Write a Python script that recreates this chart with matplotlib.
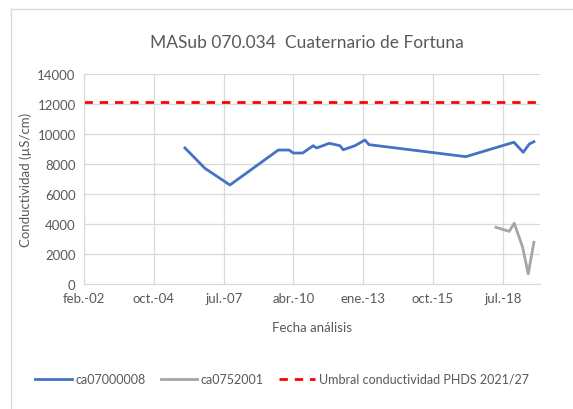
import numpy as np
import pandas as pd
import matplotlib
matplotlib.use('Agg')
import matplotlib.pyplot as plt
from matplotlib.lines import Line2D

# data
blue_dates = ['2006-01-17', '2006-10-31', '2007-10-24', '2009-09-15', '2010-02-19',
              '2010-04-18', '2010-08-30', '2011-01-29', '2011-03-19', '2011-09-16',
              '2012-02-16', '2012-04-03', '2012-09-18', '2013-02-08', '2013-04-06',
              '2017-01-23', '2018-12-13', '2019-04-26', '2019-07-21', '2019-09-26']
blue_vals = [9070, 7710, 6600, 8930, 8930, 8730, 8730, 9220, 9070, 9380,
             9220, 8950, 9220, 9600, 9290, 8490, 9450, 8780, 9330, 9490]
gray_dates = ['2018-03-31', '2018-10-07', '2018-12-18', '2019-04-17', '2019-07-06', '2019-09-26']
gray_vals = [3780, 3510, 4050, 2450, 670, 2780]
umbral = 12100
tick_labels = ['feb.-02', 'oct.-04', 'jul.-07', 'abr.-10', 'ene.-13', 'oct.-15', 'jul.-18']

plt.rcParams['font.family'] = ['Lato', 'DejaVu Sans']
grey_txt = '#595959'

fig = plt.figure(figsize=(5.73, 4.10), dpi=100)
ax = fig.add_axes([84/573, 1-285/410, (540-84)/573, (285-75)/410])

start = pd.Timestamp('2002-02-01')
x_blue = pd.to_datetime(blue_dates)
x_gray = pd.to_datetime(gray_dates)
x0 = start
x1 = start + pd.Timedelta(days=6533)

ax.plot(x_blue, blue_vals, color='#4472C4', lw=2.0, label='ca07000008', solid_joinstyle='round')
ax.plot(x_gray, gray_vals, color='#A5A5A5', lw=2.0, label='ca0752001', solid_joinstyle='round')
ax.plot([x0, x1], [umbral, umbral], color='#FF0000', lw=2.0, ls=(0, (3, 2.5)),
        label='Umbral conductividad PHDS 2021/27')

ticks = [start + pd.Timedelta(days=1000*k) for k in range(len(tick_labels))]
ax.set_xticks(ticks)
ax.set_xticklabels(tick_labels)
ax.set_xlim(x0, x1)
ax.set_ylim(0, 14000)
ax.set_yticks(np.arange(0, 14001, 2000))

ax.grid(True, color='#D9D9D9', lw=0.9)
ax.set_axisbelow(True)
for s in ['top', 'right']:
    ax.spines[s].set_visible(False)
ax.spines['left'].set_color('#D9D9D9')
ax.spines['bottom'].set_color('#D9D9D9')
ax.tick_params(length=0, labelsize=9.5, colors=grey_txt, pad=6)

ax.set_xlabel('Fecha análisis', fontsize=9.5, color=grey_txt, labelpad=12)
ax.set_ylabel('Conductividad (µS/cm)', fontsize=9.5, color=grey_txt, labelpad=4)
fig.text(307/573, 1-43/410, 'MASub 070.034  Cuaternario de Fortuna', ha='center', va='center',
         fontsize=12.5, color=grey_txt)

leg = fig.legend(loc='center', bbox_to_anchor=(282/573, 1-380/410), ncol=3, frameon=False,
                 fontsize=9, handlelength=2.9, columnspacing=1.2, handletextpad=0.3)
for t in leg.get_texts():
    t.set_color(grey_txt)

# chart border
fig.add_artist(Line2D([11/573, 11/573], [0, 1-10/410], transform=fig.transFigure, color='#D9D9D9', lw=1))
fig.add_artist(Line2D([11/573, 1], [1-10/410, 1-10/410], transform=fig.transFigure, color='#D9D9D9', lw=1))

fig.savefig('out.png', dpi=100)
